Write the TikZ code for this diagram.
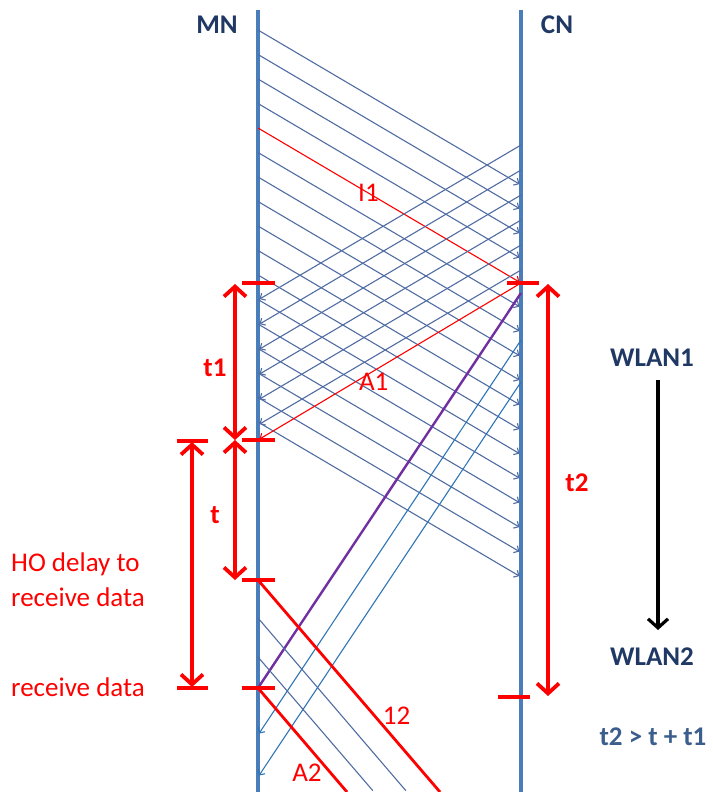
\documentclass[tikz,border=0pt]{standalone}
\usepackage{fontspec}
\setmainfont{Carlito}
\usetikzlibrary{arrows.meta,positioning}

\definecolor{lifeblue}{RGB}{74,126,187}
\definecolor{msgblue}{RGB}{80,108,162}
\definecolor{brightblue}{RGB}{46,117,182}
\definecolor{hopurple}{RGB}{112,48,160}
\definecolor{navy}{RGB}{31,56,100}
\definecolor{slate}{RGB}{59,94,140}

\begin{document}
\begin{tikzpicture}%
  [x=1bp, y=-1bp,
   msg/.style={draw=msgblue, line width=1.1bp, shorten >=1.8bp,
               -{Straight Barb[length=4bp,width=8bp]}},
   redmsg/.style={msg, draw=red},
   lifeline/.style={draw=lifeblue, line width=3.5bp},
   tick/.style={draw=red, line width=3.8bp},
   span/.style={draw=red, line width=3.8bp,
                {Straight Barb[length=10bp,width=22bp]}-{Straight Barb[length=10bp,width=22bp]}},
   head/.style={font=\fontsize{27bp}{32bp}\selectfont\bfseries, text=navy},
   redlabel/.style={font=\fontsize{27bp}{35bp}\selectfont, text=red, inner sep=1bp},
   spanlabel/.style={font=\fontsize{27bp}{32bp}\selectfont\bfseries, text=red, inner sep=1bp}
  ]
\useasboundingbox (0,0) rectangle (713,792);

% lifelines
\coordinate (mntop) at (258,10);
\coordinate (mnbot) at (258,792);
\coordinate (cntop) at (521,10);
\coordinate (cnbot) at (521,792);
\draw[lifeline] (mntop) -- (mnbot);
\draw[lifeline] (cntop) -- (cnbot);
\node[head] (mn) at (217,25) {MN};
\node[head] (cn) at (557,25) {CN};

% data MN -> CN (old path)
\foreach \k in {0,...,16}{
  \pgfmathsetmacro{\ys}{30+24.5*\k}
  \coordinate (dn\k) at (258,\ys);
  \coordinate (dc\k) at (521,\ys+155);
}
\foreach \k in {0,...,3,5,6,...,16}
  \draw[msg] (dn\k) -- (dc\k);
\draw[redmsg] (dn4) -- node[redlabel, pos=0.42] {I1} (dc4);

% acks CN -> MN
\foreach \k in {0,...,5}{
  \coordinate (uc\k) at (521,145+25*\k);
  \coordinate (un\k) at (258,300+25*\k);
  \draw[msg] (uc\k) -- (un\k);
}
\coordinate (cnho) at (521,283);
\coordinate (mnack) at (258,440);
\draw[redmsg] (cnho) -- node[redlabel, pos=0.56, yshift=-11bp] {A1} (mnack);

% new path
\coordinate (mnrx) at (258,688);
\coordinate (mnnew) at (258,580);
\coordinate (cnsw) at (521,293);
\draw[draw=hopurple, line width=2.4bp] (mnrx) -- (cnsw);
\coordinate (bc1) at (521,340);
\coordinate (bn1) at (258,735);
\coordinate (bc2) at (521,382);
\coordinate (bn2) at (258,777);
\draw[msg, draw=brightblue] (bc1) -- (bn1);
\draw[msg, draw=brightblue] (bc2) -- (bn2);

\coordinate (out12) at (440,792);
\coordinate (outa2) at (347,792);
\coordinate (nn1) at (258,618);
\coordinate (nn2) at (258,657);
\coordinate (out1) at (407,792);
\coordinate (out2) at (374,792);
\draw[msg, -] (nn1) -- (out1);
\draw[msg, -] (nn2) -- (out2);
\draw[red, line width=2.8bp] (mnnew) -- node[redlabel, pos=0.64, right=6bp] {12} (out12);
\draw[red, line width=2.8bp] (mnrx) -- (outa2);
\node[redlabel] (a2) at (307,773) {A2};

% ticks
\foreach \y in {283,440,580,688}
  \draw[tick] (242,\y) -- (275,\y);
\foreach \y in {441,688}
  \draw[tick] (177,\y) -- (208,\y);
\draw[tick] (507,283) -- (539,283);
\draw[tick] (498,697) -- (530,697);

% time spans
\coordinate (t1top) at (235,284);
\coordinate (t1bot) at (235,440);
\coordinate (tbot)  at (235,580);
\coordinate (hotop) at (192,442);
\coordinate (hobot) at (192,687);
\coordinate (t2top) at (548,284);
\coordinate (t2bot) at (548,696);
\draw[span] (t1top) -- (t1bot);
\draw[span] (t1bot) -- (tbot);
\draw[span] (hotop) -- (hobot);
\draw[span] (t2top) -- (t2bot);
\node[spanlabel] (t1) at (215,368) {t1};
\node[spanlabel] (t)  at (215,515) {t};
\node[spanlabel] (t2) at (577,483) {t2};
\node[redlabel, align=left, anchor=west] (hodelay) at (10,580) {HO delay to\\receive data};
\node[redlabel, anchor=west] (rx) at (10,687) {receive data};

% handover
\node[head] (wlan1) at (652,358) {WLAN1};
\node[head] (wlan2) at (652,657) {WLAN2};
\coordinate (hostart) at (658,380);
\coordinate (hoend) at (658,630);
\draw[black, line width=3.2bp, -{Straight Barb[length=9bp,width=20bp]}] (hostart) -- (hoend);
\node[head, text=slate] (cond) at (653,737) {t2 > t + t1};
\end{tikzpicture}
\end{document}
